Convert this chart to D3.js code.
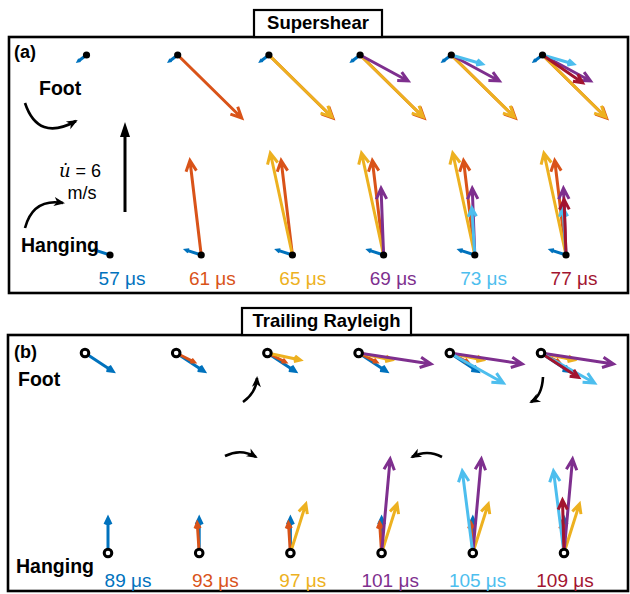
<!DOCTYPE html>
<html>
<head>
<meta charset="utf-8">
<script src="https://cdn.jsdelivr.net/npm/d3@7"></script>
<style>
  html, body { margin: 0; padding: 0; background: #fff; }
  svg { display: block; }
  text { font-family: "Liberation Sans", Arial, sans-serif; }
</style>
</head>
<body>
<svg id="chart" width="630" height="594"></svg>
<script>
// Snapshot times (µs) for each panel
const timesA = [57, 61, 65, 69, 73, 77];
const timesB = [89, 93, 97, 101, 105, 109];
// One colour per snapshot, reused in both panels
const seriesColors = ["#0072BD", "#D95319", "#EDB120", "#7E2F8E", "#4DBEEE", "#A2142F"];

// Particle velocity components (m/s): u = fault-parallel (right +), v = fault-normal (up +)
// Panel (a) – supershear
const footA_u = [-0.53, 4.27, 4.2, 3.2, 2.07, 2.67];
const footA_v = [-0.4, -4.2, -4.13, -1.73, -0.6, -1.85];
const hangA_u = [-1.0, -0.75, -1.47, -0.17, -0.2, -0.13];
const hangA_v = [0.33, 6.3, 6.8, 4.45, 3.13, 3.7];
// Panel (b) – trailing Rayleigh
const footB_u = [1.87, 1.2, 2.2, 4.83, 3.57, 2.5];
const footB_v = [-1.23, -0.6, -0.47, -0.73, -2.0, -1.63];
const hangB_u = [0.0, -0.13, 1.03, 0.57, -0.7, -0.1];
const hangB_v = [2.33, 2.0, 3.27, 6.27, 5.47, 3.53];

// Reference velocity for the scale arrow
const refSpeed = 6;

const svg = d3.select("#chart");

// Velocity magnitude -> pixels
const vScale = d3.scaleLinear().domain([0, 6]).range([0, 90]);

function drawVector(g, x0, y0, u, v, color, width) {
  const dx = vScale(u), dy = -vScale(v);
  const len = Math.hypot(dx, dy);
  const x1 = x0 + dx, y1 = y0 + dy;
  const ang = Math.atan2(dy, dx);
  const h = Math.min(12, 0.2 * len);
  const a = 0.45;
  const bx1 = x1 - h * Math.cos(ang - a), by1 = y1 - h * Math.sin(ang - a);
  const bx2 = x1 - h * Math.cos(ang + a), by2 = y1 - h * Math.sin(ang + a);
  const p = d3.path();
  p.moveTo(x0, y0); p.lineTo(x1, y1);
  p.moveTo(bx1, by1); p.lineTo(x1, y1); p.lineTo(bx2, by2);
  g.append("path").attr("d", p.toString())
    .attr("fill", "none").attr("stroke", color)
    .attr("stroke-width", width)
    .attr("stroke-linejoin", "miter").attr("stroke-linecap", "butt");
}

// Curved black indicator arrow with a filled head
const defs = svg.append("defs");
defs.append("marker").attr("id", "head")
  .attr("viewBox", "-10 -5 12 10").attr("refX", 0).attr("refY", 0)
  .attr("markerWidth", 12).attr("markerHeight", 10)
  .attr("markerUnits", "userSpaceOnUse").attr("orient", "auto")
  .append("path").attr("d", "M2,0 L-9,-4.5 L-6,0 L-9,4.5 Z").attr("fill", "#000");

function curvedArrow(d) {
  svg.append("path").attr("d", d).attr("fill", "none")
    .attr("stroke", "#000").attr("stroke-width", 2.6)
    .attr("marker-end", "url(#head)");
}

function titleBox(label, x, y, w, h) {
  svg.append("rect").attr("x", x).attr("y", y).attr("width", w).attr("height", h)
    .attr("fill", "#fff").attr("stroke", "#000").attr("stroke-width", 2.2);
  svg.append("text").attr("x", x + w / 2).attr("y", y + h / 2 + 1)
    .attr("text-anchor", "middle").attr("dominant-baseline", "middle")
    .attr("font-weight", "bold").attr("font-size", 18.5).text(label);
}

function panel(cfg) {
  const g = svg.append("g");
  // frame
  g.append("rect").attr("x", cfg.box[0]).attr("y", cfg.box[1])
    .attr("width", cfg.box[2]).attr("height", cfg.box[3])
    .attr("fill", "none").attr("stroke", "#000").attr("stroke-width", 2.6);

  const col = d3.scalePoint().domain(cfg.times).range(cfg.colRange);
  const lab = d3.scalePoint().domain(cfg.times).range(cfg.labelRange);

  cfg.times.forEach((t, i) => {
    const hx = col(t), fx = hx + cfg.footOffset;
    const vg = g.append("g");
    // every snapshot up to the current one, oldest underneath
    for (let j = 0; j <= i; j++) {
      drawVector(vg, fx, cfg.footY, cfg.footU[j], cfg.footV[j], seriesColors[j], 3);
    }
    for (let j = 0; j <= i; j++) {
      drawVector(vg, hx, cfg.hangY, cfg.hangU[j], cfg.hangV[j], seriesColors[j], 3);
    }
    // station markers
    [[fx, cfg.footY], [hx, cfg.hangY]].forEach(([x, y]) => {
      if (cfg.openMarker) {
        g.append("circle").attr("cx", x).attr("cy", y).attr("r", 3.8)
          .attr("fill", "#fff").attr("stroke", "#000").attr("stroke-width", 3);
      } else {
        g.append("circle").attr("cx", x).attr("cy", y).attr("r", 3.6).attr("fill", "#000");
      }
    });
    // time label
    g.append("text").attr("x", lab(t)).attr("y", cfg.labelY)
      .attr("text-anchor", "middle").attr("font-size", 19)
      .attr("fill", seriesColors[i]).text(t + " μs");
  });

  g.append("text").attr("x", cfg.tagPos[0]).attr("y", cfg.tagPos[1])
    .attr("font-weight", "bold").attr("font-size", 18).attr("dominant-baseline", "middle")
    .text(cfg.tag);
  g.append("text").attr("x", cfg.footLabel[0]).attr("y", cfg.footLabel[1])
    .attr("font-weight", "bold").attr("font-size", 19.5).attr("dominant-baseline", "middle")
    .text("Foot");
  g.append("text").attr("x", cfg.hangLabel[0]).attr("y", cfg.hangLabel[1])
    .attr("font-weight", "bold").attr("font-size", 19.5).attr("dominant-baseline", "middle")
    .text("Hanging");
}

panel({
  box: [9, 37, 619, 256], times: timesA, colRange: [110, 566], labelRange: [122, 574],
  footOffset: -23.5, footY: 55, hangY: 255, labelY: 285,
  footU: footA_u, footV: footA_v, hangU: hangA_u, hangV: hangA_v,
  openMarker: false, tag: "(a)", tagPos: [14, 53],
  footLabel: [39, 90], hangLabel: [21, 247]
});

panel({
  box: [8, 335, 620, 256], times: timesB, colRange: [108, 564], labelRange: [128, 565],
  footOffset: -23, footY: 353, hangY: 553, labelY: 587,
  footU: footB_u, footV: footB_v, hangU: hangB_u, hangV: hangB_v,
  openMarker: true, tag: "(b)", tagPos: [14, 353],
  footLabel: [18, 381], hangLabel: [16, 568]
});

titleBox("Supershear", 254, 10, 128, 27);
titleBox("Trailing Rayleigh", 242, 308, 169, 27);

// Scale arrow for the reference speed
const sx = 125, sy = 212;
svg.append("line").attr("x1", sx).attr("y1", sy).attr("x2", sx).attr("y2", sy - vScale(refSpeed) + 12)
  .attr("stroke", "#000").attr("stroke-width", 3);
svg.append("path")
  .attr("d", `M${sx},${sy - vScale(refSpeed)} L${sx - 5},${sy - vScale(refSpeed) + 15} L${sx + 5},${sy - vScale(refSpeed) + 15} Z`)
  .attr("fill", "#000");
const uLab = svg.append("text").attr("x", 80).attr("y", 177).attr("text-anchor", "middle")
  .attr("font-size", 18);
uLab.append("tspan").attr("font-family", "'DejaVu Serif', serif").attr("font-style", "italic").text("u\u0307");
uLab.append("tspan").text(" = " + refSpeed);
svg.append("text").attr("x", 82).attr("y", 199).attr("text-anchor", "middle")
  .attr("font-size", 18).text("m/s");

// Rotation sense indicators
curvedArrow("M25,103 Q38,142 76,121");
curvedArrow("M25,228 Q33,198 63,203");
curvedArrow("M243,402 Q256,393 257,378");
curvedArrow("M225,456 Q241,448 256,457");
curvedArrow("M442,457 Q427,449 412,457");
curvedArrow("M543,377 Q542,396 531,402");
</script>
</body>
</html>
